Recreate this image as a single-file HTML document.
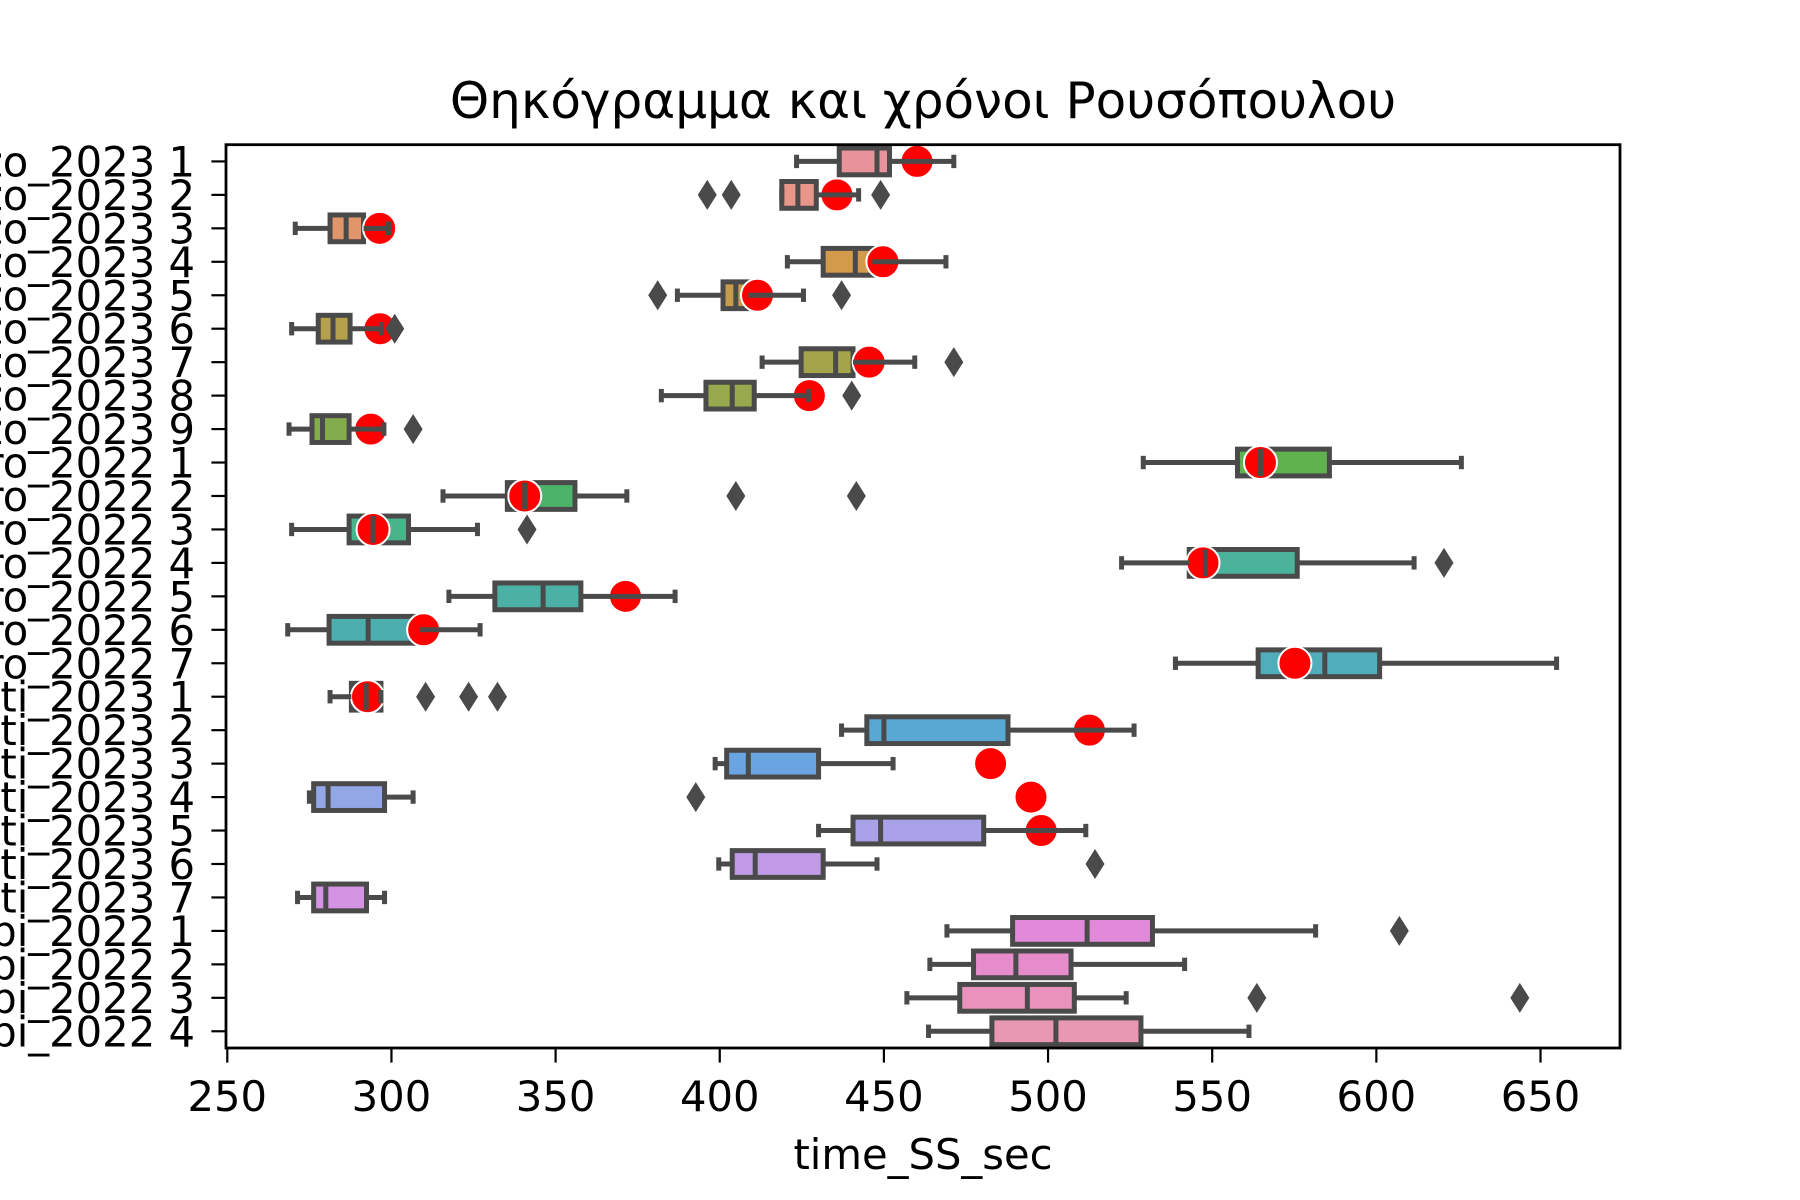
<!DOCTYPE html>
<html><head><meta charset="utf-8"><style>
html,body{margin:0;padding:0;background:#fff;}
svg{display:block;font-family:"DejaVu Sans","Liberation Sans",sans-serif;}
</style></head><body>
<svg id="chart" width="1800" height="1200" viewBox="0 0 1800 1200" xmlns="http://www.w3.org/2000/svg">
<text x="923" y="118" font-size="50" text-anchor="middle" fill="#000">Θηκόγραμμα και χρόνοι Ρουσόπουλου</text>
<g id="plot"></g>
<text x="923" y="1169" font-size="41.7" text-anchor="middle" fill="#000">time_SS_sec</text>
</svg>
<script>
const categories = ["Arezzo_2023 1","Arezzo_2023 2","Arezzo_2023 3","Arezzo_2023 4","Arezzo_2023 5","Arezzo_2023 6","Arezzo_2023 7","Arezzo_2023 8","Arezzo_2023 9",
"Pesaro_2022 1","Pesaro_2022 2","Pesaro_2022 3","Pesaro_2022 4","Pesaro_2022 5","Pesaro_2022 6","Pesaro_2022 7",
"Brunati_2023 1","Brunati_2023 2","Brunati_2023 3","Brunati_2023 4","Brunati_2023 5","Brunati_2023 6","Brunati_2023 7",
"Rubi_2022 1","Rubi_2022 2","Rubi_2022 3","Rubi_2022 4"];
const whiskerLow  = [423.4,418.9,270.7,420.6,387.1,269.6,412.9,382.2,268.8,529,315.7,269.6,522.4,317.5,268.4,538.8,281.3,437.1,398.6,275,430.1,399.7,271.4,469.2,464,457,463.6];
const q1Values    = [436.4,418.9,281.3,431.5,401.0,277.7,424.8,395.8,275.8,557.7,335.3,287.1,543,331.5,281,564,287.8,444.8,402.1,276.3,440.6,403.8,276.3,489.2,477.3,473.1,482.9];
const medianValues= [447.9,423.8,286.2,441.3,404.9,282.2,435.3,403.8,279,564.7,340.6,294.4,547.9,346.2,292.9,584.3,292.3,450,408.7,280.7,449,410.8,280,511.9,490.2,493.7,502.4];
const q3Values    = [451.7,429.4,291.5,446.5,408.7,287.4,440.6,410.5,287.1,585.7,355.9,305.2,575.9,357.7,308.6,601.0,296.8,487.8,430.1,297.9,480.4,431.5,292.4,531.8,507,508,528.3];
const whiskerHigh = [471.3,442.3,299.1,468.9,425.5,297,459.4,427,297.7,625.9,371.7,326.2,611.5,386.4,327,654.9,296.8,526.2,452.8,306.6,511.5,447.9,297.9,581.5,541.6,523.8,561.2];
const outlierValues = [[],[396.2,403.5,449],[],[],[381.1,437.1],[301],[471.3],[440.2],[306.6],[],[404.9,441.6],[341.3],[620.6],[],[],[],[310.4,323.5,332.3],[],[],[392.7],[],[514.3],[],[607],[],[563.6,643.7],[]];
const meanDots = [460.1,435.7,296.4,449.7,411.5,296.5,445.5,427.3,293.7,564.7,340.6,294.4,547.2,371.3,309.8,575.2,292.7,512.6,482.5,494.8,497.9,null,null,null,null,null,null];
const boxColors = ["#e8939c","#e8968a","#e0956a","#d49a4b","#c79c4a","#b5a04b","#a6a44b","#96a94c","#83ad4d","#5fb24d","#4cb36b","#4bb38a","#4bb29b","#4cb1a5","#4daeb0","#50adba","#52abc5","#58a8d3","#6aa5e2","#93a6e6","#aaa2e8","#c19ae6","#d593e3","#e08ad9","#e68cca","#e892bc","#e898b2"];
const xTicks = [250,300,350,400,450,500,550,600,650];

const L=226,R=1620,T=144.7,B=1048;
function xScale(v){return 227.3+(v-250)*3.283;}
const rowH=(B-T)/categories.length;
function yScale(i){return T+rowH*(i+0.5);}
const NS="http://www.w3.org/2000/svg";
const g=document.getElementById('plot');
function mk(tag,attrs,parent){const e=document.createElementNS(NS,tag);for(const k in attrs)e.setAttribute(k,attrs[k]);(parent||g).appendChild(e);return e;}
const dark="#4a4a4a",lw=5,bw=rowH*0.8,cap=bw*0.5;

categories.forEach((c,i)=>{
  const y=yScale(i);
  const grp=mk('g',{});
  
  
  const box=mk('rect',{x:xScale(q1Values[i]),y:y-bw/2,width:Math.max(0,xScale(q3Values[i])-xScale(q1Values[i])),height:bw,fill:boxColors[i],stroke:dark,'stroke-width':lw},grp);
  
  
  if(meanDots[i]!==null){
    const d=mk('circle',{cx:xScale(meanDots[i]),cy:y,r:16.5,fill:'#ff0000',stroke:'#fff','stroke-width':2},grp);
    
    
  }
  const lines=[[xScale(whiskerLow[i]),y,xScale(q1Values[i]),y],[xScale(q3Values[i]),y,xScale(whiskerHigh[i]),y],
    [xScale(whiskerLow[i]),y-cap/2,xScale(whiskerLow[i]),y+cap/2],[xScale(whiskerHigh[i]),y-cap/2,xScale(whiskerHigh[i]),y+cap/2],
    [xScale(medianValues[i]),y-bw/2,xScale(medianValues[i]),y+bw/2]];
  lines.forEach(p=>{const l=mk('line',{x1:p[0],y1:p[1],x2:p[2],y2:p[3],stroke:dark,'stroke-width':lw},grp);
    
    });
  outlierValues[i].forEach(v=>{const x=xScale(v);
    const f=mk('polygon',{points:`${x},${y-15} ${x+9.5},${y} ${x},${y+15} ${x-9.5},${y}`,fill:dark},grp);
    
    });
  const tk=mk('line',{x1:L-14.6,y1:y,x2:L,y2:y,stroke:'#000','stroke-width':2.2});
  
  
  const t=mk('text',{x:L-31,y:y+15,'font-size':41.7,'text-anchor':'end',fill:'#000'});
  t.textContent=c;
  
  
});
xTicks.forEach(v=>{
  const x=xScale(v);
  const tk=mk('line',{x1:x,y1:B,x2:x,y2:B+14.6,stroke:'#000','stroke-width':2.2});
  
  
  const t=mk('text',{x:x,y:1111,'font-size':41.7,'text-anchor':'middle',fill:'#000'});
  t.textContent=v;
  
  
});
const frame=mk('rect',{x:L,y:T,width:R-L,height:B-T,fill:'none',stroke:'#000','stroke-width':2.8});


</script>
</body></html>
